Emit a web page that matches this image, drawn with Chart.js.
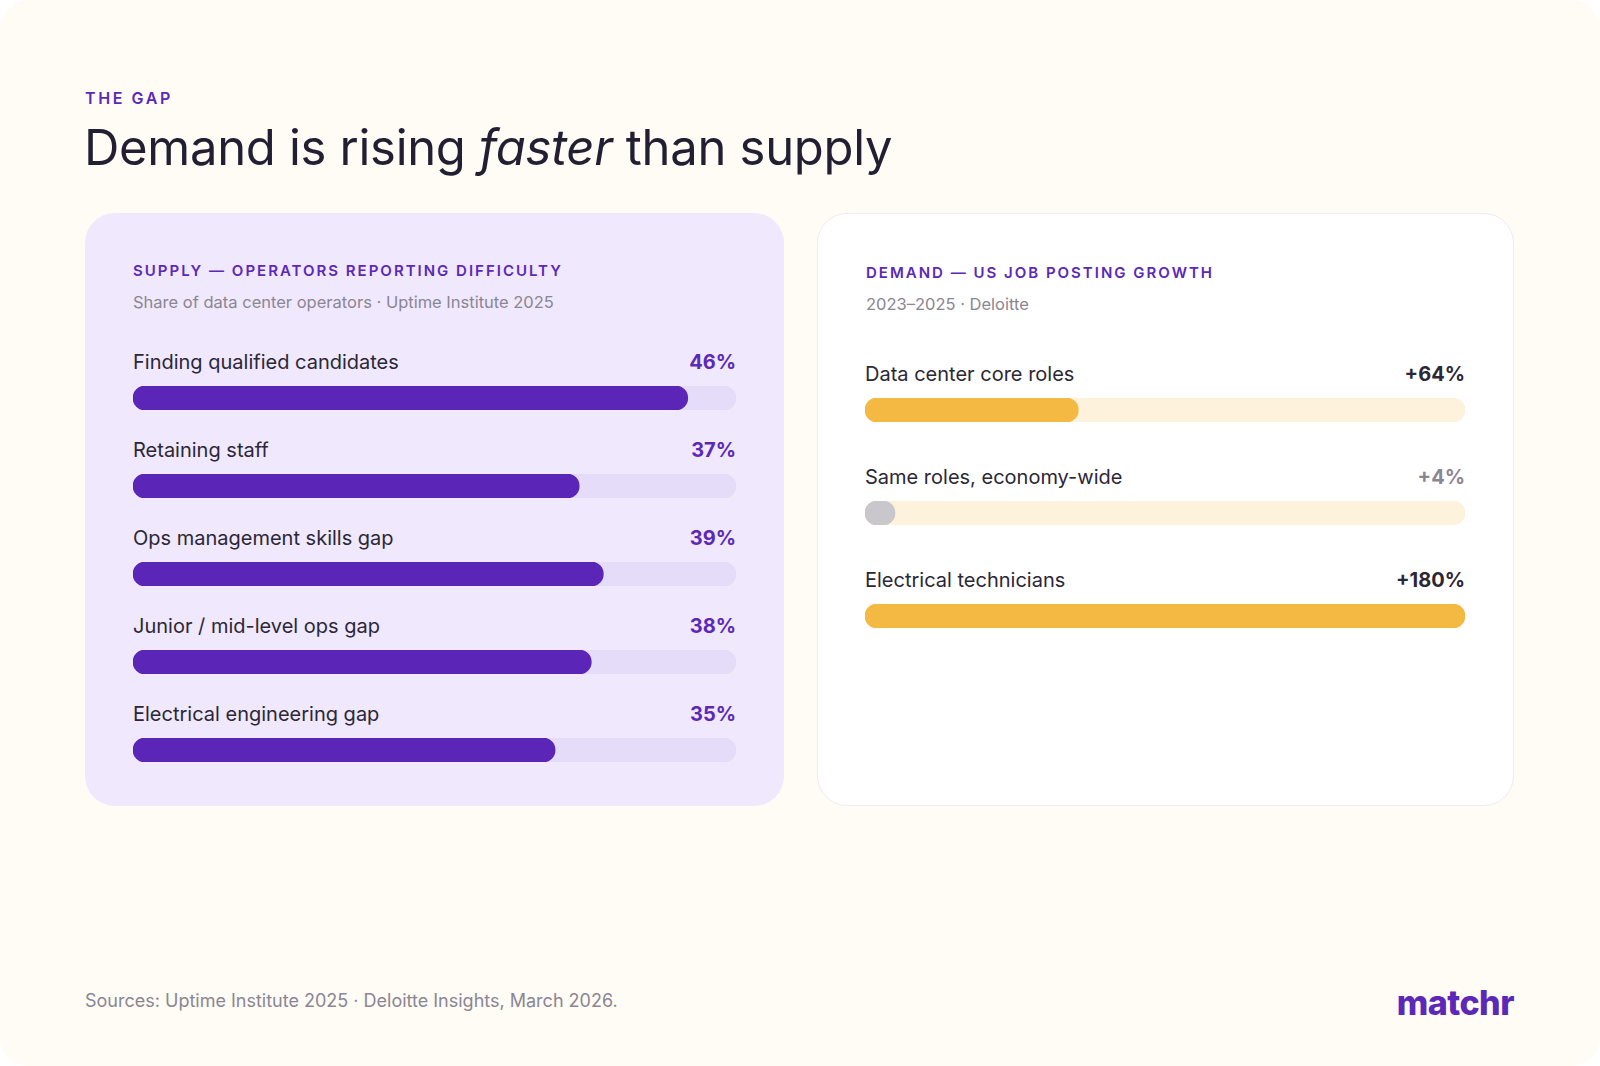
<!DOCTYPE html>
<html><head><meta charset="utf-8">
<script src="https://cdn.jsdelivr.net/npm/chart.js@4"></script>
<style>
html,body{margin:0;padding:0;background:#fff;}
body{width:1600px;height:1066px;font-family:"Inter","Open Sans",sans-serif;}
.page{position:absolute;left:0;top:0;width:1600px;height:1066px;background:#fffbf5;border-radius:28px;overflow:hidden;}
.kicker{position:absolute;left:85px;top:88px;font-size:16px;font-weight:600;letter-spacing:2.6px;color:#5b28b8;}
.title{position:absolute;left:84px;top:118px;font-size:49px;font-weight:400;color:#231f33;letter-spacing:-0.3px;}
.card{position:absolute;top:213px;height:593px;border-radius:30px;box-sizing:border-box;}
.left{left:85px;width:699px;background:#f0e8fd;}
.right{left:817px;width:697px;background:#fff;border:1.5px solid #efeaf5;}
.head{position:absolute;left:48px;font-size:15px;font-weight:600;letter-spacing:2.0px;color:#5b28b8;}
.sub{position:absolute;left:48px;font-size:16.5px;color:#8a8693;}
.row{position:absolute;left:48px;width:603px;}
.right .row{left:47px;width:600px;}
.lab{display:flex;justify-content:space-between;font-size:20px;color:#2b2736;height:28px;line-height:28px;}
.val{font-weight:700;}
.bar{position:relative;height:24px;margin-top:10px;}
.src{position:absolute;left:85px;top:990px;font-size:18px;color:#8a8693;}
.logo{position:absolute;right:86px;top:982px;font-size:34px;font-weight:800;color:#5b28b8;letter-spacing:-0.5px;}
</style></head><body>
<div class="page">
<div class="kicker">THE GAP</div>
<div class="title">Demand is rising <i>faster</i> than supply</div>
<div class="card left">
 <div class="head" style="top:48px">SUPPLY — OPERATORS REPORTING DIFFICULTY</div>
 <div class="sub" style="top:79px">Share of data center operators · Uptime Institute 2025</div>
 <div id="supply"></div>
</div>
<div class="card right">
 <div class="head" style="top:49px">DEMAND — US JOB POSTING GROWTH</div>
 <div class="sub" style="top:80px">2023–2025 · Deloitte</div>
 <div id="demand"></div>
</div>
<div class="src">Sources: Uptime Institute 2025 · Deloitte Insights, March 2026.</div>
<div class="logo">matchr</div>
</div>
<script>
const supplyLabels=["Finding qualified candidates","Retaining staff","Ops management skills gap","Junior / mid-level ops gap","Electrical engineering gap"];
const supplyValues=[46,37,39,38,35];
const supplyMax=50;
const demandLabels=["Data center core roles","Same roles, economy-wide","Electrical technicians"];
const demandValues=[64,4,180];
const demandMax=180;

function makeRow(container,top,label,valText,valColor,value,max,color,track,minLen){
  const r=document.createElement('div');r.className='row';r.style.top=top+'px';
  r.innerHTML='<div class="lab"><span>'+label+'</span><span class="val" style="color:'+valColor+'">'+valText+'</span></div><div class="bar"><canvas></canvas></div>';
  container.appendChild(r);
  new Chart(r.querySelector('canvas'),{type:'bar',
    data:{labels:[''],datasets:[
      {data:[value],backgroundColor:color,borderRadius:12,borderSkipped:false,grouped:false,barPercentage:1,categoryPercentage:1,minBarLength:minLen||0},
      {data:[max],backgroundColor:track,borderRadius:12,borderSkipped:false,grouped:false,barPercentage:1,categoryPercentage:1}]},
    options:{indexAxis:'y',responsive:true,maintainAspectRatio:false,animation:false,
      layout:{padding:0},plugins:{legend:{display:false},tooltip:{enabled:false}},
      scales:{x:{display:false,min:0,max:max},y:{display:false}}}});
}
const s=document.getElementById('supply');
supplyLabels.forEach((l,i)=>makeRow(s,135+i*88,l,supplyValues[i]+'%','#5b28b8',supplyValues[i],supplyMax,'#5b26b8','#e5dcf9'));
const d=document.getElementById('demand');
demandLabels.forEach((l,i)=>{
  const gray=i===1;
  makeRow(d,146+i*103,l,'+'+demandValues[i]+'%',gray?'#8a8693':'#2b2736',demandValues[i],demandMax,gray?'#c9c6cc':'#f4b942','#fdf2dc',gray?30:0);
});
</script>
</body></html>
